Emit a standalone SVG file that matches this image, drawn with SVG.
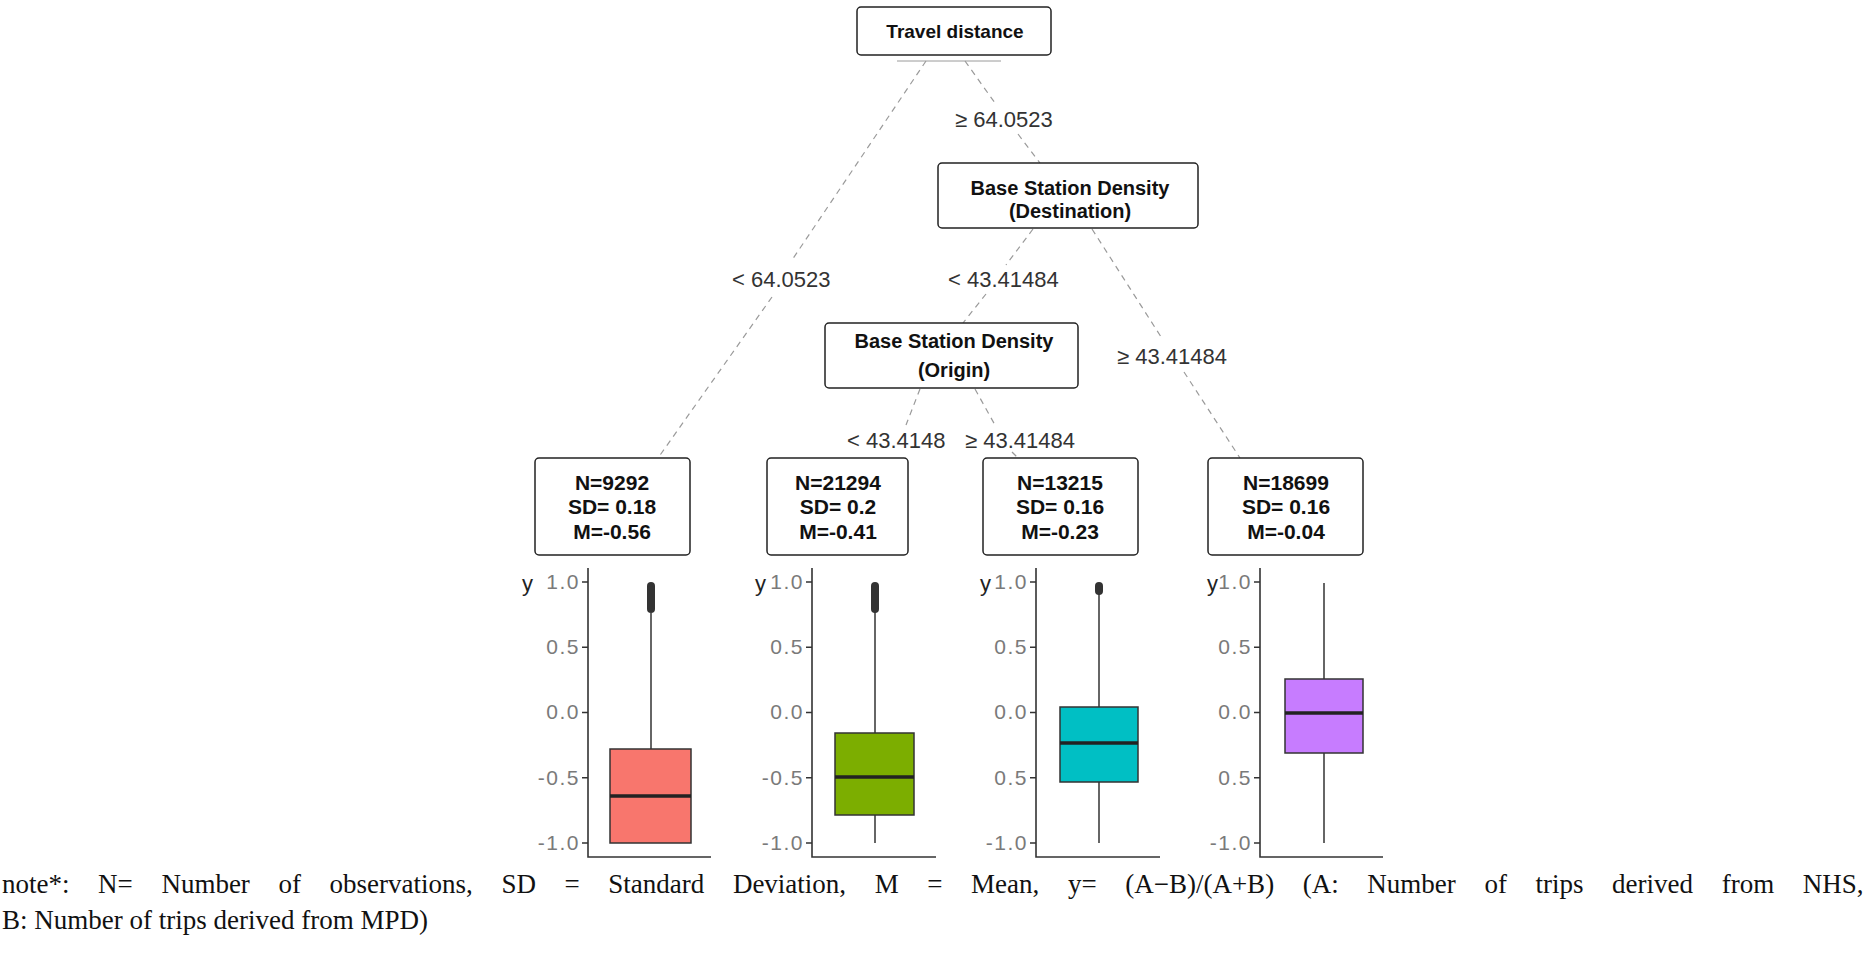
<svg xmlns="http://www.w3.org/2000/svg" width="1868" height="956" viewBox="0 0 1868 956">
<style>
.nbox{fill:#fff;stroke:#222;stroke-width:1.5}
.ntxt{font-family:"Liberation Sans",Arial,sans-serif;font-weight:bold;font-size:19px;fill:#111;text-anchor:middle}
.ntxt2{font-family:"Liberation Sans",Arial,sans-serif;font-weight:bold;font-size:20px;fill:#111;text-anchor:middle}
.ltxt{font-family:"Liberation Sans",Arial,sans-serif;font-weight:bold;font-size:21px;fill:#111;text-anchor:middle}
.elab{font-family:"Liberation Sans",Arial,sans-serif;font-size:22px;fill:#333}
.conn{stroke:#9a9a9a;stroke-width:1.2;stroke-dasharray:6 5;fill:none}
.axis{stroke:#333;stroke-width:1.6;fill:none}
.tick{font-family:"Liberation Sans",Arial,sans-serif;font-size:21px;fill:#7a7a7a;text-anchor:end;letter-spacing:1.5px}
.ylab{font-family:"Liberation Sans",Arial,sans-serif;font-size:22px;fill:#222}
.bx{stroke:#333;stroke-width:1.5}
.wh{stroke:#333;stroke-width:1.5}
.med{stroke:#222;stroke-width:3.5}
.out{stroke:#333;stroke-width:8;stroke-linecap:round}
.note{font-family:"Liberation Serif","Times New Roman",serif;font-size:27px;fill:#111}
</style>

<g id="connectors">
  <line class="conn" x1="926" y1="61" x2="792" y2="260"/>
  <line class="conn" x1="772" y1="297" x2="658" y2="458"/>
  <line class="conn" x1="965" y1="61" x2="995" y2="103"/>
  <line class="conn" x1="1018" y1="134" x2="1040" y2="163"/>
  <line class="conn" x1="1033" y1="229" x2="1006" y2="265"/>
  <line class="conn" x1="986" y1="294" x2="963" y2="323"/>
  <line class="conn" x1="1092" y1="229" x2="1163" y2="340"/>
  <line class="conn" x1="1184" y1="372" x2="1240" y2="458"/>
  <line class="conn" x1="920" y1="389" x2="906" y2="425"/>
  <line class="conn" x1="975" y1="389" x2="995" y2="425"/>
  <line class="conn" x1="1012" y1="452" x2="1018" y2="458"/>
  <line x1="897" y1="61" x2="1001" y2="61" stroke="#9a9a9a" stroke-width="1"/>
</g>

<g id="edge-labels">
  <text class="elab" x="955" y="127">≥ 64.0523</text>
  <text class="elab" x="732" y="287">&lt; 64.0523</text>
  <text class="elab" x="948" y="287">&lt; 43.41484</text>
  <text class="elab" x="1117" y="364">≥ 43.41484</text>
  <text class="elab" x="847" y="448">&lt; 43.4148</text>
  <text class="elab" x="965" y="448">≥ 43.41484</text>
</g>

<g id="node-travel">
  <rect class="nbox" x="857" y="7" width="194" height="48" rx="4"/>
  <text class="ntxt" x="955" y="38">Travel distance</text>
</g>
<g id="node-destination">
  <rect class="nbox" x="938" y="163" width="260" height="65" rx="4"/>
  <text class="ntxt2" x="1070" y="195">Base Station Density</text>
  <text class="ntxt2" x="1070" y="218">(Destination)</text>
</g>
<g id="node-origin">
  <rect class="nbox" x="825" y="323" width="253" height="65" rx="4"/>
  <text class="ntxt2" x="954" y="348">Base Station Density</text>
  <text class="ntxt2" x="954" y="377">(Origin)</text>
</g>

<g id="leaf-1">
  <rect class="nbox" x="535" y="458" width="155" height="97" rx="4"/>
  <text class="ltxt" x="612" y="490">N=9292</text>
  <text class="ltxt" x="612" y="514">SD= 0.18</text>
  <text class="ltxt" x="612" y="539">M=-0.56</text>
</g>
<g id="leaf-2">
  <rect class="nbox" x="767" y="458" width="141" height="97" rx="4"/>
  <text class="ltxt" x="838" y="490">N=21294</text>
  <text class="ltxt" x="838" y="514">SD= 0.2</text>
  <text class="ltxt" x="838" y="539">M=-0.41</text>
</g>
<g id="leaf-3">
  <rect class="nbox" x="983" y="458" width="155" height="97" rx="4"/>
  <text class="ltxt" x="1060" y="490">N=13215</text>
  <text class="ltxt" x="1060" y="514">SD= 0.16</text>
  <text class="ltxt" x="1060" y="539">M=-0.23</text>
</g>
<g id="leaf-4">
  <rect class="nbox" x="1208" y="458" width="155" height="97" rx="4"/>
  <text class="ltxt" x="1286" y="490">N=18699</text>
  <text class="ltxt" x="1286" y="514">SD= 0.16</text>
  <text class="ltxt" x="1286" y="539">M=-0.04</text>
</g>

<g id="plot-1">
  <path class="axis" d="M588 568V857H711M582 582H588M582 647.25H588M582 712.5H588M582 777.75H588M582 843H588"/>
  <text class="ylab" x="522" y="591">y</text>
  <text class="tick" x="580" y="589">1.0</text>
  <text class="tick" x="580" y="654">0.5</text>
  <text class="tick" x="580" y="719">0.0</text>
  <text class="tick" x="580" y="785">-0.5</text>
  <text class="tick" x="580" y="850">-1.0</text>
  <line class="wh" x1="651" y1="749" x2="651" y2="613"/>
  <line class="out" x1="651" y1="586" x2="651" y2="609"/>
  <rect class="bx" x="610" y="749" width="81" height="94" fill="#F8766D"/>
  <line class="med" x1="610" y1="796" x2="691" y2="796"/>
</g>
<g id="plot-2">
  <path class="axis" d="M812 568V857H936M806 582H812M806 647.25H812M806 712.5H812M806 777.75H812M806 843H812"/>
  <text class="ylab" x="755" y="591">y</text>
  <text class="tick" x="804" y="589">1.0</text>
  <text class="tick" x="804" y="654">0.5</text>
  <text class="tick" x="804" y="719">0.0</text>
  <text class="tick" x="804" y="785">-0.5</text>
  <text class="tick" x="804" y="850">-1.0</text>
  <line class="wh" x1="875" y1="733" x2="875" y2="612"/>
  <line class="wh" x1="875" y1="815" x2="875" y2="843"/>
  <line class="out" x1="875" y1="586" x2="875" y2="609"/>
  <rect class="bx" x="835" y="733" width="79" height="82" fill="#7CAE00"/>
  <line class="med" x1="835" y1="777" x2="914" y2="777"/>
</g>
<g id="plot-3">
  <path class="axis" d="M1036 568V857H1160M1030 582H1036M1030 647.25H1036M1030 712.5H1036M1030 777.75H1036M1030 843H1036"/>
  <text class="ylab" x="980" y="591">y</text>
  <text class="tick" x="1028" y="589">1.0</text>
  <text class="tick" x="1028" y="654">0.5</text>
  <text class="tick" x="1028" y="719">0.0</text>
  <text class="tick" x="1028" y="785">0.5</text>
  <text class="tick" x="1028" y="850">-1.0</text>
  <line class="wh" x1="1099" y1="707" x2="1099" y2="592"/>
  <line class="wh" x1="1099" y1="782" x2="1099" y2="843"/>
  <line class="out" x1="1099" y1="586" x2="1099" y2="591"/>
  <rect class="bx" x="1060" y="707" width="78" height="75" fill="#00BFC4"/>
  <line class="med" x1="1060" y1="743" x2="1138" y2="743"/>
</g>
<g id="plot-4">
  <path class="axis" d="M1260 568V857H1383M1254 582H1260M1254 647.25H1260M1254 712.5H1260M1254 777.75H1260M1254 843H1260"/>
  <text class="ylab" x="1207" y="591">y</text>
  <text class="tick" x="1252" y="589">1.0</text>
  <text class="tick" x="1252" y="654">0.5</text>
  <text class="tick" x="1252" y="719">0.0</text>
  <text class="tick" x="1252" y="785">0.5</text>
  <text class="tick" x="1252" y="850">-1.0</text>
  <line class="wh" x1="1324" y1="583" x2="1324" y2="843"/>
  <rect class="bx" x="1285" y="679" width="78" height="74" fill="#C77CFF"/>
  <line class="med" x1="1285" y1="713" x2="1363" y2="713"/>
</g>

<g id="note">
  <text class="note" y="893"><tspan x="2">note*:</tspan><tspan x="98.1">N=</tspan><tspan x="161.4">Number</tspan><tspan x="278.5">of</tspan><tspan x="329.6">observations,</tspan><tspan x="501.4">SD</tspan><tspan x="564.5">=</tspan><tspan x="608.3">Standard</tspan><tspan x="732.9">Deviation,</tspan><tspan x="874.7">M</tspan><tspan x="927.3">=</tspan><tspan x="971.1">Mean,</tspan><tspan x="1067.9">y=</tspan><tspan x="1125.2">(A−B)/(A+B)</tspan><tspan x="1302.7">(A:</tspan><tspan x="1367.3">Number</tspan><tspan x="1484.4">of</tspan><tspan x="1535.5">trips</tspan><tspan x="1612.1">derived</tspan><tspan x="1721.7">from</tspan><tspan x="1802.8">NHS,</tspan></text>
  <text class="note" x="2" y="928.5">B: Number of trips derived from MPD)</text>
</g>
</svg>
